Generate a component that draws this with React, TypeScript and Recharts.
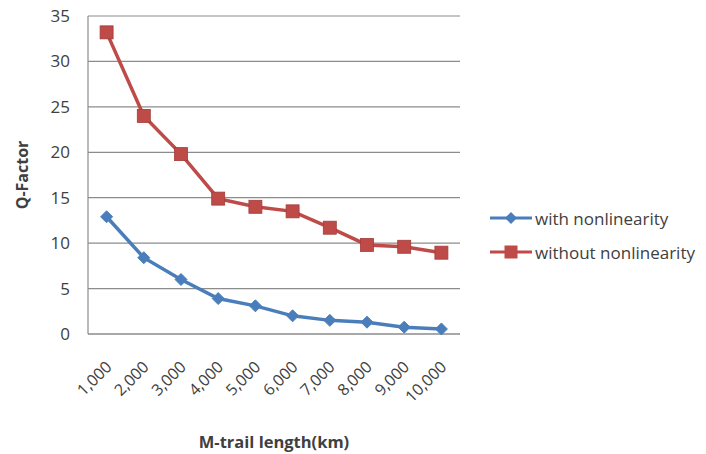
import React from "react";
import { LineChart, Line, XAxis, YAxis, CartesianGrid } from "recharts";

const lengths = ["1,000", "2,000", "3,000", "4,000", "5,000", "6,000", "7,000", "8,000", "9,000", "10,000"];
const withNonlinearity = [12.9, 8.4, 6.0, 3.9, 3.1, 2.0, 1.5, 1.3, 0.75, 0.55];
const withoutNonlinearity = [33.2, 24.0, 19.8, 14.9, 14.0, 13.5, 11.7, 9.8, 9.6, 8.95];
const yTicks = [0, 5, 10, 15, 20, 25, 30, 35];

const BLUE = "#4a7ebb";
const RED = "#be4b48";
const FONT = "'Open Sans', 'Noto Sans', sans-serif";
const TEXT = "#404040";

const data = lengths.map((label, i) => ({
  label,
  withNL: withNonlinearity[i],
  withoutNL: withoutNonlinearity[i],
}));

const Diamond = (props: any) => {
  const { cx, cy } = props;
  if (cx == null || cy == null) return null;
  const r = 6;
  return (
    <polygon
      points={`${cx},${cy - r} ${cx + r},${cy} ${cx},${cy + r} ${cx - r},${cy}`}
      fill={BLUE}
      stroke={BLUE}
    />
  );
};

const Square = (props: any) => {
  const { cx, cy } = props;
  if (cx == null || cy == null) return null;
  const s = 13;
  return <rect x={cx - s / 2} y={cy - s / 2} width={s} height={s} fill={RED} stroke="#a33c39" strokeWidth={0.8} />;
};

const XTick = (props: any) => {
  const { x, y, payload } = props;
  const px = x + 6;
  const py = y + 34;
  return (
    <text
      x={px}
      y={py}
      transform={`rotate(-45, ${px}, ${py})`}
      textAnchor="end"
      fontSize={16}
      fontFamily={FONT}
      fill={TEXT}
    >
      {payload.value}
    </text>
  );
};

const legendItems = [
  { name: "with nonlinearity", color: BLUE, mark: "diamond" },
  { name: "without nonlinearity", color: RED, mark: "square" },
];

const LegendBox = () => (
  <div style={{ position: "absolute", left: 488, top: 201, fontFamily: FONT, fontSize: 17, color: TEXT, whiteSpace: "nowrap" }}>
    {legendItems.map((it) => (
      <div key={it.name} style={{ display: "flex", alignItems: "center", height: 34 }}>
        <svg width={46} height={16}>
          <line x1={2} y1={8} x2={44} y2={8} stroke={it.color} strokeWidth={3} />
          {it.mark === "diamond" ? (
            <polygon points="23,2 29,8 23,14 17,8" fill={it.color} />
          ) : (
            <rect x={16.5} y={1.5} width={13} height={13} fill={it.color} />
          )}
        </svg>
        <span style={{ marginLeft: 1 }}>{it.name}</span>
      </div>
    ))}
  </div>
);

export default function App() {
  return (
    <div style={{ position: "absolute", left: 0, top: 0, width: 706, height: 454, background: "#fff", overflow: "hidden" }}>
      <LineChart width={706} height={454} data={data} margin={{ top: 16, right: 246, bottom: 0, left: 0 }}>
        <CartesianGrid vertical={false} stroke="#8c8c8c" strokeWidth={1.2} />
        <XAxis
          dataKey="label"
          axisLine={{ stroke: "#8c8c8c", strokeWidth: 1.2 }}
          tickLine={false}
          tickSize={0}
          tickMargin={0}
          interval={0}
          height={120}
          padding={{ left: 18.6, right: 18.6 }}
          tick={<XTick />}
          label={{
            value: "M-trail length(km)",
            position: "insideBottom",
            offset: 6,
            fontSize: 16.5,
            fontWeight: "bold",
            fontFamily: FONT,
            fill: TEXT,
          }}
        />
        <YAxis
          width={88}
          domain={[0, 35]}
          ticks={yTicks}
          interval={0}
          axisLine={{ stroke: "#8c8c8c", strokeWidth: 1.2 }}
          tickLine={false}
          tickSize={0}
          tickMargin={18}
          tick={{ fontSize: 17, fontFamily: FONT, fill: TEXT }}
          label={{
            value: "Q-Factor",
            angle: -90,
            position: "center",
            dx: -22,
            fontSize: 16,
            fontWeight: "bold",
            fontFamily: FONT,
            fill: TEXT,
          }}
        />
        <Line
          type="linear"
          dataKey="withNL"
          name="with nonlinearity"
          stroke={BLUE}
          strokeWidth={3.5}
          dot={<Diamond />}
          activeDot={false}
          isAnimationActive={false}
        />
        <Line
          type="linear"
          dataKey="withoutNL"
          name="without nonlinearity"
          stroke={RED}
          strokeWidth={3.5}
          dot={<Square />}
          activeDot={false}
          isAnimationActive={false}
        />
      </LineChart>
      <LegendBox />
    </div>
  );
}
